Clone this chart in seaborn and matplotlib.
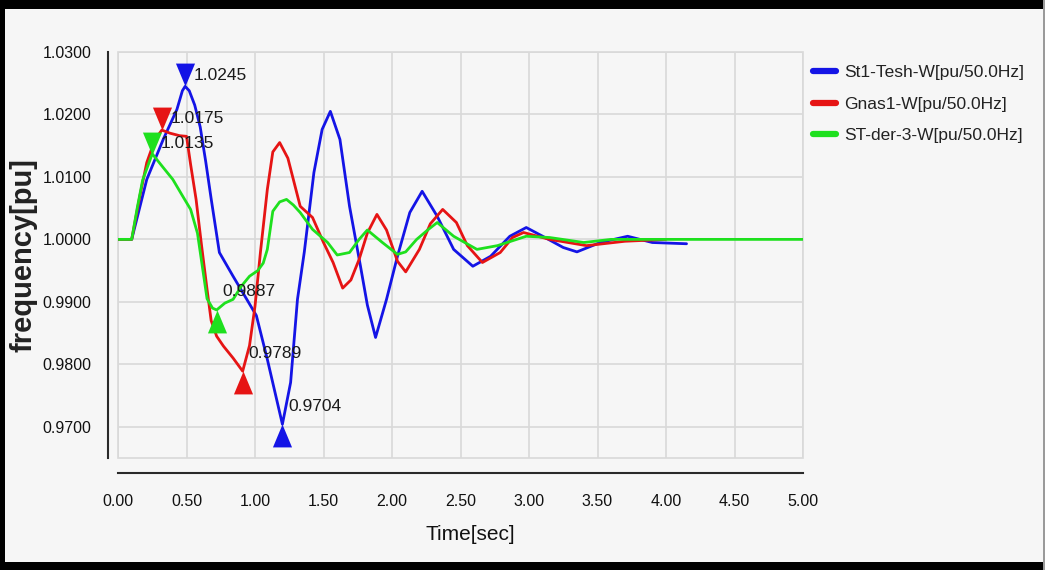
import numpy as np
import pandas as pd
import matplotlib
matplotlib.use("Agg")
import matplotlib.pyplot as plt
import seaborn as sns
from matplotlib.path import Path
from matplotlib.patches import Rectangle

# St1-Tesh-W (blue)
blue_t = [0.00, 0.10, 0.21, 0.33, 0.43, 0.47, 0.49, 0.52, 0.56, 0.60, 0.64, 0.68, 0.74, 0.84,
          0.94, 1.01, 1.09, 1.20, 1.26, 1.31, 1.36, 1.43, 1.49, 1.55, 1.62, 1.69, 1.77, 1.82,
          1.88, 1.96, 2.04, 2.13, 2.22, 2.33, 2.45, 2.59, 2.72, 2.86, 2.98, 3.10, 3.25, 3.35,
          3.52, 3.72, 3.90, 4.15]
blue_f = [1.0000, 1.0000, 1.0096, 1.0160, 1.0208, 1.0238, 1.0245, 1.0238, 1.0215, 1.0180, 1.0125, 1.0065, 0.9979, 0.9941,
          0.9904, 0.9878, 0.9808, 0.9704, 0.9771, 0.9904, 0.9980, 1.0107, 1.0176, 1.0205, 1.0160, 1.0053, 0.9957, 0.9895,
          0.9843, 0.9904, 0.9973, 1.0043, 1.0077, 1.0037, 0.9984, 0.9957, 0.9973, 1.0005, 1.0019, 1.0005, 0.9987, 0.9980,
          0.9995, 1.0005, 0.9995, 0.9993]

# Gnas1-W (red)
red_t = [0.00, 0.10, 0.16, 0.21, 0.27, 0.32, 0.38, 0.45, 0.50, 0.53, 0.57, 0.61, 0.65, 0.68, 0.72,
         0.77, 0.84, 0.91, 0.96, 1.00, 1.04, 1.09, 1.13, 1.18, 1.24, 1.33, 1.42, 1.50, 1.57, 1.64,
         1.70, 1.76, 1.82, 1.89, 1.96, 2.04, 2.10, 2.20, 2.28, 2.37, 2.47, 2.55, 2.66, 2.79, 2.88,
         2.96, 3.15, 3.42, 3.70, 4.00]
red_f = [1.0000, 1.0000, 1.0070, 1.0123, 1.0160, 1.0175, 1.0170, 1.0166, 1.0165, 1.0120, 1.0064, 0.9990, 0.9920, 0.9870, 0.9845,
         0.9829, 0.9810, 0.9789, 0.9830, 0.9893, 0.9980, 1.0080, 1.0140, 1.0155, 1.0130, 1.0053, 1.0035, 0.9995, 0.9963, 0.9922,
         0.9935, 0.9968, 1.0010, 1.0040, 1.0015, 0.9965, 0.9948, 0.9984, 1.0025, 1.0048, 1.0027, 0.9990, 0.9963, 0.9979, 1.0003,
         1.0011, 1.0000, 0.9990, 0.9997, 1.0000]

# ST-der-3-W (green)
green_t = [0.00, 0.10, 0.14, 0.18, 0.25, 0.33, 0.40, 0.47, 0.53, 0.58, 0.62, 0.65, 0.69, 0.72, 0.78,
           0.84, 0.90, 0.96, 1.02, 1.06, 1.09, 1.13, 1.18, 1.23, 1.28, 1.33, 1.42, 1.53, 1.60, 1.69,
           1.76, 1.82, 1.93, 2.04, 2.10, 2.18, 2.26, 2.33, 2.45, 2.62, 2.77, 2.98, 3.15, 3.40, 3.60,
           4.00, 4.50, 5.00]
green_f = [1.0000, 1.0000, 1.0050, 1.0095, 1.0137, 1.0115, 1.0096, 1.0070, 1.0048, 1.0010, 0.9950, 0.9905, 0.9890, 0.9887, 0.9898,
           0.9904, 0.9925, 0.9941, 0.9950, 0.9962, 0.9984, 1.0045, 1.0060, 1.0064, 1.0055, 1.0043, 1.0016, 0.9995, 0.9975, 0.9979,
           1.0000, 1.0015, 0.9995, 0.9976, 0.9980, 1.0000, 1.0015, 1.0027, 1.0005, 0.9984, 0.9990, 1.0005, 1.0003, 0.9995, 1.0000,
           1.0000, 1.0000, 1.0000]

series_names = ["St1-Tesh-W[pu/50.0Hz]", "Gnas1-W[pu/50.0Hz]", "ST-der-3-W[pu/50.0Hz]"]
series_colors = ["#1414e6", "#e61414", "#1ee01e"]

# marked extremes: (series index, time, value)
max_series = [0, 1, 2]
max_t = [0.49, 0.32, 0.25]
max_f = [1.0245, 1.0175, 1.0135]
min_series = [2, 1, 0]
min_t = [0.72, 0.91, 1.20]
min_f = [0.9887, 0.9789, 0.9704]

x_ticks = [0.0, 0.5, 1.0, 1.5, 2.0, 2.5, 3.0, 3.5, 4.0, 4.5, 5.0]
y_ticks = [0.97, 0.98, 0.99, 1.00, 1.01, 1.02, 1.03]

bg = "#f6f6f6"
gridc = "#d9d9d9"

sns.set_theme(style="whitegrid")
plt.rcParams['font.family'] = ['Liberation Sans', 'DejaVu Sans']

fig = plt.figure(figsize=(10.45, 5.7), dpi=100, facecolor=bg)
ax = fig.add_axes([118 / 1045, 1 - 458 / 570, 685 / 1045, 406 / 570])
ax.set_facecolor(bg)

ts = [blue_t, red_t, green_t]
fs = [blue_f, red_f, green_f]
for name, col, t, f in zip(series_names, series_colors, ts, fs):
    df = pd.DataFrame({"t": t, "f": f})
    sns.lineplot(data=df, x="t", y="f", color=col, lw=2.0, ax=ax, label=name)

# triangle markers with the tip on the data point
down_tri = Path([(-1, 2.4), (1, 2.4), (0, 0), (-1, 2.4)], closed=True)
up_tri = Path([(-1, -2.4), (1, -2.4), (0, 0), (-1, -2.4)], closed=True)

for i, t, f in zip(max_series, max_t, max_f):
    ax.plot([t], [f], ls="none", marker=down_tri, ms=33, color=series_colors[i], mew=0)
    ax.annotate(f"{f:.4f}", (t, f), xytext=(6, 8), textcoords="offset points",
                ha="left", va="center", fontsize=12.5, color="#1a1a1a")
for i, t, f in zip(min_series, min_t, min_f):
    ax.plot([t], [f], ls="none", marker=up_tri, ms=33, color=series_colors[i], mew=0)
    ax.annotate(f"{f:.4f}", (t, f), xytext=(4, 13), textcoords="offset points",
                ha="left", va="center", fontsize=12.5, color="#1a1a1a")

ax.set_xlim(0, 5)
ax.set_ylim(0.965, 1.03)
ax.set_xticks(x_ticks)
ax.set_xticklabels([f"{v:.2f}" for v in x_ticks])
ax.set_yticks(y_ticks)
ax.set_yticklabels([f"{v:.4f}" for v in y_ticks])
ax.grid(True, color=gridc, lw=1.2)
ax.patch.set_edgecolor(gridc)
ax.patch.set_linewidth(1.2)

for s in ["top", "right"]:
    ax.spines[s].set_visible(False)
ax.spines["left"].set_position(("outward", 7))
ax.spines["bottom"].set_position(("outward", 11))
for s in ["left", "bottom"]:
    ax.spines[s].set_color("#2a2a2a")
    ax.spines[s].set_linewidth(1.5)
ax.tick_params(axis="both", which="major", length=8, width=1.5, color="#2a2a2a",
               labelsize=11.5, labelcolor="#111111", pad=4)
ax.tick_params(axis="x", length=9, pad=6)

ax.set_xlabel("Time[sec]", fontsize=15, color="#111111",
              family=['Liberation Sans Narrow', 'Liberation Sans', 'DejaVu Sans'])
ax.xaxis.set_label_coords(0.514, -0.165)
ax.set_ylabel("frequency[pu]", fontsize=21, fontweight="bold", color="#222222")
ax.yaxis.set_label_coords(-0.118, 0.5)

leg = ax.legend(loc="upper left", bbox_to_anchor=(806 / 1045, 1 - 58 / 570),
                bbox_transform=fig.transFigure, frameon=False, fontsize=12.5,
                handlelength=1.3, handletextpad=0.5, labelspacing=0.95, borderaxespad=0)
for line in leg.get_lines():
    line.set_linewidth(4.5)
for txt in leg.get_texts():
    txt.set_color("#222222")

# dark border of the screenshot
fig.add_artist(Rectangle((0, 1 - 9 / 570), 1, 9 / 570, transform=fig.transFigure, color="black", lw=0))
fig.add_artist(Rectangle((0, 0), 1, 8 / 570, transform=fig.transFigure, color="black", lw=0))
fig.add_artist(Rectangle((0, 0), 5 / 1045, 1, transform=fig.transFigure, color="black", lw=0))
fig.add_artist(Rectangle((1 - 2 / 1045, 0), 2 / 1045, 1, transform=fig.transFigure, color="#9a9a9a", lw=0))

fig.savefig("out.png", dpi=100, facecolor=bg)
